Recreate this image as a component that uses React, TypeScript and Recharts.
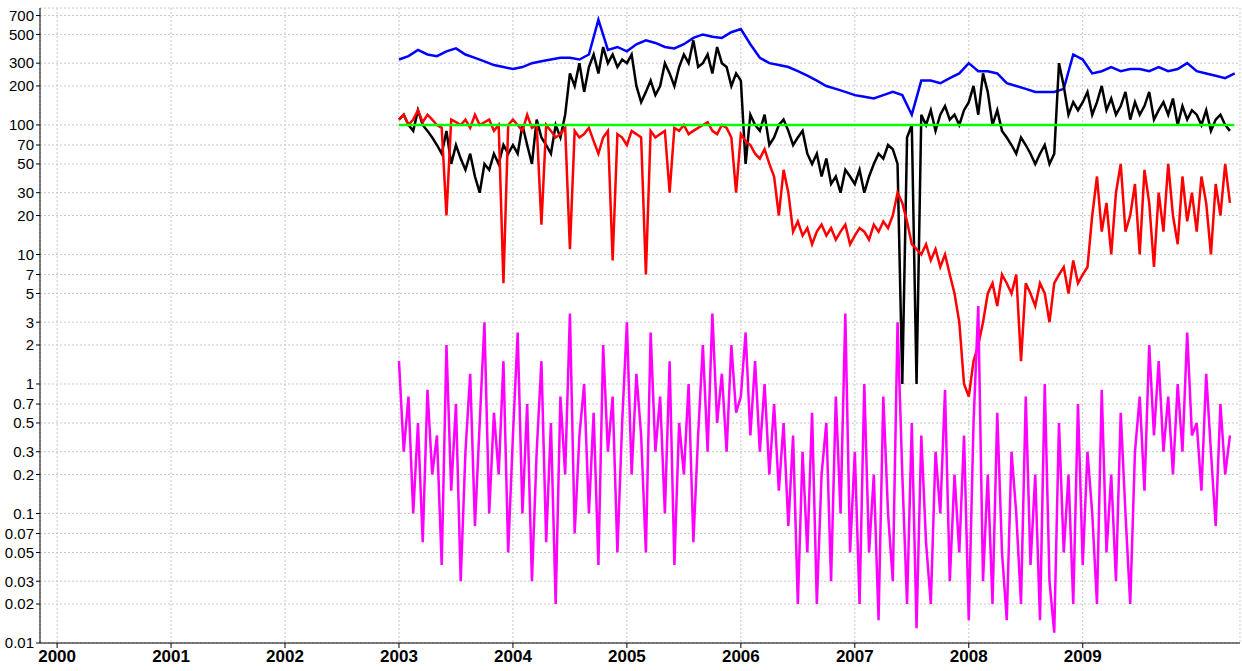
import React from "react";
import { LineChart, Line, XAxis, YAxis, CartesianGrid } from "recharts";

// half-month sampling from 2003.0
const STEP = 1 / 24;
const START = 2003;

const blueMonthly = [
  320, 340, 380, 350, 340, 370, 390, 350, 330, 310, 290, 280,
  270, 280, 300, 310, 320, 330, 330, 320, 350, 650, 380, 400,
  370, 420, 450, 430, 400, 390, 420, 470, 500, 480, 470, 520,
  550, 420, 330, 300, 290, 280, 260, 240, 220, 200, 190, 180,
  170, 165, 160, 170, 180, 170, 120, 220, 220, 210, 230, 250,
  300, 260, 260, 250, 210, 200, 190, 180, 180, 180, 190, 350,
  320, 250, 260, 280, 260, 270, 270, 260, 280, 260, 270, 300,
  260, 250, 240, 230, 250,
];

const blackVals = [
  110, 120, 100, 90, 130, 100, 90, 80, 70, 60, 90, 50, 70, 55, 45, 60, 40, 30, 50, 45, 60, 50, 70, 60,
  70, 60, 100, 70, 50, 110, 80, 70, 60, 100, 80, 120, 250, 200, 300, 180, 280, 350, 250, 400, 300, 350, 280, 320,
  300, 350, 200, 150, 180, 220, 170, 200, 300, 250, 200, 280, 350, 300, 450, 280, 300, 350, 250, 400, 300, 280, 200, 250,
  220, 50, 120, 100, 90, 120, 70, 80, 100, 110, 90, 70, 80, 90, 60, 50, 60, 40, 55, 35, 40, 30, 45, 40,
  35, 45, 30, 40, 50, 60, 55, 70, 65, 50, 1, 80, 100, 1, 120, 100, 130, 90, 120, 140, 110, 120, 100, 130,
  150, 200, 120, 250, 180, 100, 130, 90, 80, 70, 60, 80, 70, 60, 50, 60, 70, 50, 60, 300, 200, 120, 150, 130,
  150, 180, 120, 150, 200, 130, 160, 120, 140, 180, 110, 150, 120, 140, 180, 110, 130, 150, 120, 160, 100, 140, 110, 130,
  120, 100, 130, 90, 110, 120, 100, 90,
];

const redVals = [
  110, 120, 100, 110, 130, 105, 120, 110, 100, 95, 20, 110, 105, 100, 110, 95, 120, 100, 105, 110, 90, 100, 6, 100,
  110, 100, 90, 120, 95, 100, 17, 100, 90, 80, 85, 95, 11, 90, 80, 85, 95, 75, 60, 80, 90, 9, 85, 80,
  70, 90, 85, 80, 7, 90, 80, 85, 90, 30, 95, 90, 100, 85, 90, 95, 100, 105, 90, 85, 100, 95, 80, 30,
  85, 75, 70, 60, 55, 65, 50, 40, 20, 45, 30, 15, 18, 14, 16, 12, 15, 17, 14, 16, 13, 15, 17, 12,
  14, 16, 15, 13, 17, 15, 18, 16, 20, 30, 25, 18, 12, 11, 10, 12, 9, 11, 8, 10, 7, 5, 3, 1,
  0.8, 1.5, 2, 3, 5, 6, 4, 7, 6, 5, 7, 1.5, 6, 5, 4, 6, 5, 3, 6, 7, 8, 5, 9, 6,
  7, 8, 20, 40, 15, 25, 10, 30, 50, 15, 20, 35, 10, 45, 25, 8, 30, 15, 50, 20, 12, 40, 18, 30,
  15, 40, 25, 10, 35, 20, 50, 25,
];

const pinkVals = [
  1.5, 0.3, 0.8, 0.1, 0.5, 0.06, 0.9, 0.2, 0.4, 0.04, 2, 0.15, 0.7, 0.03, 0.3, 1.2, 0.08, 0.5, 3, 0.1, 0.6, 0.2, 1.5, 0.05,
  0.4, 2.5, 0.1, 0.7, 0.03, 0.3, 1.5, 0.06, 0.5, 0.02, 0.8, 0.2, 3.5, 0.07, 0.4, 1, 0.1, 0.6, 0.04, 2, 0.3, 0.8, 0.05, 0.5,
  3, 0.2, 1.2, 0.4, 0.05, 2.5, 0.3, 0.8, 0.1, 1.5, 0.04, 0.5, 0.2, 1, 0.06, 0.4, 2, 0.3, 3.5, 0.5, 1.2, 0.3, 2, 0.6,
  0.8, 2.5, 0.4, 1.5, 0.3, 1, 0.2, 0.7, 0.15, 0.5, 0.08, 0.4, 0.02, 0.3, 0.05, 0.6, 0.02, 0.2, 0.5, 0.03, 0.8, 0.1, 3.5, 0.05,
  0.3, 0.02, 1, 0.05, 0.2, 0.015, 0.8, 0.1, 0.03, 3, 0.2, 0.02, 0.5, 0.013, 0.4, 0.06, 0.02, 0.3, 0.1, 0.9, 0.03, 0.2, 0.05, 0.4,
  0.015, 0.5, 4, 0.03, 0.2, 0.02, 0.6, 0.05, 0.015, 0.3, 0.1, 0.02, 0.8, 0.04, 0.2, 0.015, 1, 0.03, 0.012, 0.5, 0.05, 0.2, 0.02, 0.7,
  0.04, 0.3, 0.1, 0.02, 0.9, 0.05, 0.2, 0.03, 0.6, 0.1, 0.02, 0.3, 0.8, 0.15, 2, 0.4, 1.5, 0.3, 0.8, 0.2, 1, 0.3, 2.5, 0.4,
  0.5, 0.15, 1.2, 0.3, 0.08, 0.7, 0.2, 0.4,
];

const greenLine = [
  { t: 2003, v: 100 },
  { t: 2010.33, v: 100 },
];

const yearTicks = [2000, 2001, 2002, 2003, 2004, 2005, 2006, 2007, 2008, 2009];
const yTicks = [
  0.01, 0.02, 0.03, 0.05, 0.07, 0.1, 0.2, 0.3, 0.5, 0.7, 1, 2, 3, 5, 7, 10, 20, 30, 50, 70, 100, 200, 300,
  500, 700,
];

const half = (vals: number[]) => vals.map((v, i) => ({ t: START + i * STEP, v }));
const blueData = blueMonthly.map((v, i) => ({ t: START + i / 12, v }));
const blackData = half(blackVals);
const redData = half(redVals);
const pinkData = half(pinkVals);

export default function App() {
  return (
    <div style={{ position: "absolute", left: 0, top: 0, background: "#fff" }}>
      <LineChart
        width={1242}
        height={671}
        margin={{ top: 8, right: 2, left: 0, bottom: 0 }}
        style={{ fontFamily: "Liberation Sans, Arial, sans-serif" }}
      >
        <CartesianGrid stroke="#c8c8c8" strokeDasharray="2 2" />
        <XAxis
          type="number"
          dataKey="t"
          domain={[1999.85, 2010.38]}
          ticks={yearTicks}
          allowDataOverflow
          height={28}
          stroke="#000"
          tick={{ fill: "#000", fontSize: 17, fontWeight: "bold" }}
          tickSize={5}
        />
        <YAxis
          scale="log"
          domain={[0.01, 800]}
          ticks={yTicks}
          allowDataOverflow
          width={40}
          stroke="#000"
          tick={{ fill: "#000", fontSize: 15 }}
          tickSize={4}
          interval={0}
          tickFormatter={(v: number) => String(v)}
        />
        <Line data={blueData} dataKey="v" stroke="#0000ff" strokeWidth={2.5} dot={false} isAnimationActive={false} />
        <Line data={blackData} dataKey="v" stroke="#000000" strokeWidth={2.5} dot={false} isAnimationActive={false} />
        <Line data={redData} dataKey="v" stroke="#ff0000" strokeWidth={2.5} dot={false} isAnimationActive={false} />
        <Line data={pinkData} dataKey="v" stroke="#ff00ff" strokeWidth={2.5} dot={false} isAnimationActive={false} />
        <Line data={greenLine} dataKey="v" stroke="#00ff00" strokeWidth={2.5} dot={false} isAnimationActive={false} />
      </LineChart>
    </div>
  );
}
